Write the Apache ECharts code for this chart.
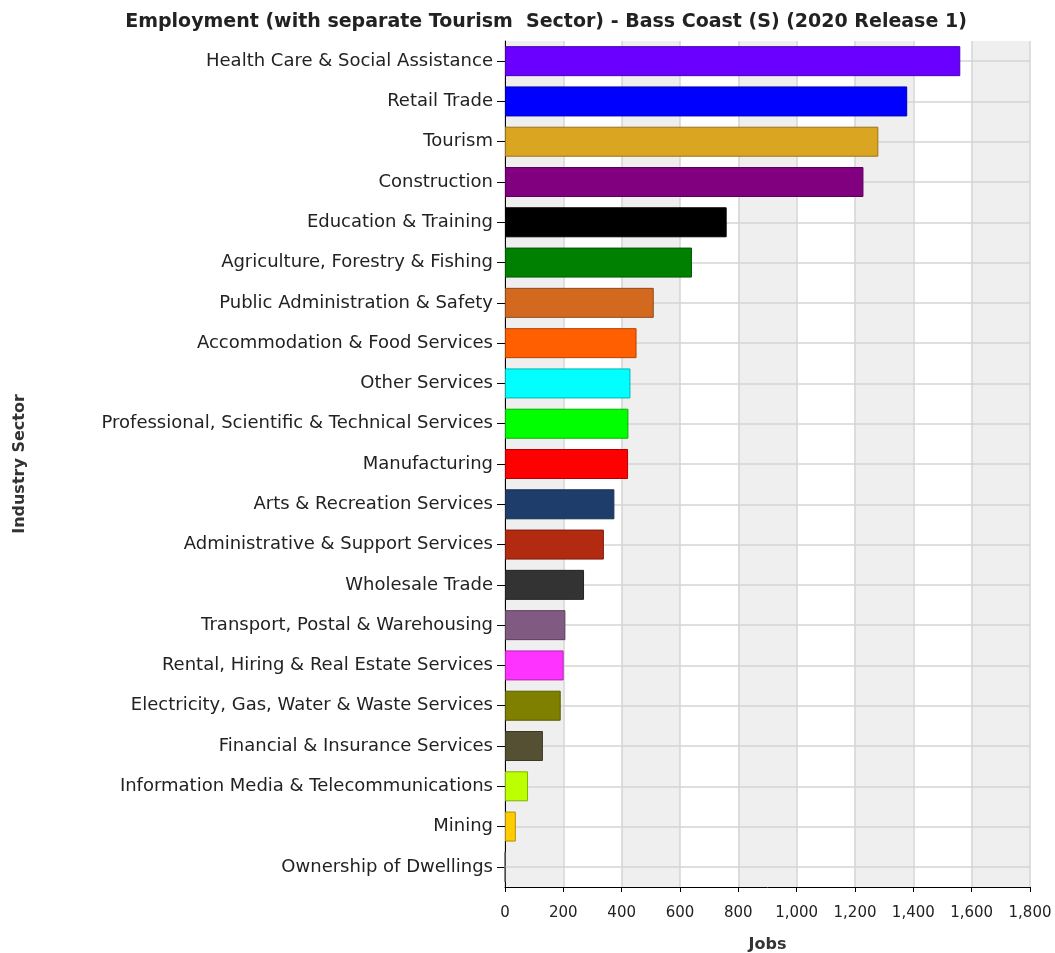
<!DOCTYPE html>
<html>
<head>
<meta charset="utf-8">
<script src="https://cdn.jsdelivr.net/npm/echarts@6/dist/echarts.min.js"></script>
<style>
html,body{margin:0;padding:0;background:#fff;}
#chart{width:1055px;height:953px;}
</style>
</head>
<body>
<div id="chart"></div>
<script>
const categories = [
  "Health Care & Social Assistance",
  "Retail Trade",
  "Tourism",
  "Construction",
  "Education & Training",
  "Agriculture, Forestry & Fishing",
  "Public Administration & Safety",
  "Accommodation & Food Services",
  "Other Services",
  "Professional, Scientific & Technical Services",
  "Manufacturing",
  "Arts & Recreation Services",
  "Administrative & Support Services",
  "Wholesale Trade",
  "Transport, Postal & Warehousing",
  "Rental, Hiring & Real Estate Services",
  "Electricity, Gas, Water & Waste Services",
  "Financial & Insurance Services",
  "Information Media & Telecommunications",
  "Mining",
  "Ownership of Dwellings"
];
const jobs = [1561, 1379, 1280, 1229, 760, 641, 510, 451, 430, 423, 422, 375, 339, 271, 207, 201, 191, 130, 79, 37, 0];
const colors = ["#6a00ff","#0000ff","#daa520","#800080","#000000","#008000","#d2691e","#ff5f00","#00ffff","#00ff00","#ff0000","#1f3d6b","#b22a10","#333333","#805a80","#ff33ff","#808000","#555033","#bbff00","#ffcc00","#999999"];
const borders = ["#4a00b3","#0000b3","#98731a","#5a005a","#000000","#005a00","#93491a","#b34300","#00b3b3","#00b300","#b30000","#16304f","#7d1d0b","#222222","#5a3f5a","#b324b3","#5a5a00","#3b3824","#83b300","#b38f00","#666666"];
const xTicks = [0, 200, 400, 600, 800, 1000, 1200, 1400, 1600, 1800];

const chart = echarts.init(document.getElementById('chart'));
chart.setOption({
  animation: false,
  title: {
    text: "Employment (with separate Tourism  Sector) - Bass Coast (S) (2020 Release 1)",
    left: 541, textAlign: 'center', top: 8,
    textStyle: {fontFamily: 'DejaVu Sans', fontWeight: 'bold', fontSize: 19, color: '#222'}
  },
  grid: {left: 505, right: 25, top: 41, bottom: 66, containLabel: false, outerBoundsMode: 'none'},
  xAxis: {
    type: 'value', min: xTicks[0], max: xTicks[xTicks.length - 1], interval: 200,
    name: 'Jobs', nameLocation: 'middle', nameGap: 50,
    nameTextStyle: {fontFamily: 'DejaVu Sans', fontWeight: 'bold', fontSize: 16, color: '#333'},
    axisLine: {show: true, lineStyle: {color: '#000', width: 1}},
    axisTick: {show: true, length: 5, lineStyle: {color: '#000'}},
    axisLabel: {fontFamily: 'DejaVu Sans', fontSize: 15, color: '#222', margin: 19,
      formatter: v => v.toLocaleString('en-US')},
    splitLine: {show: true, lineStyle: {color: '#d4d4d4', width: 1.5}},
    splitArea: {show: true, areaStyle: {color: ['#efefef', '#ffffff']}}
  },
  yAxis: {
    type: 'category', data: categories, inverse: true,
    name: 'Industry Sector', nameLocation: 'middle', nameGap: 477, nameRotate: 90,
    nameTextStyle: {fontFamily: 'DejaVu Sans', fontWeight: 'bold', fontSize: 16, color: '#333'},
    axisLine: {show: true, lineStyle: {color: '#000', width: 1}},
    axisTick: {show: true, alignWithLabel: true, length: 8, lineStyle: {color: '#000'}},
    axisLabel: {fontFamily: 'DejaVu Sans', fontSize: 18, color: '#222', margin: 12},
    splitLine: {show: false}
  },
  series: [{
    type: 'bar',
    z: 2,
    data: jobs.map((v, i) => ({value: v, itemStyle: {color: colors[i], borderColor: borders[i], borderWidth: 1}})),
    barWidth: 30,
    markLine: {
      z: 1,
      silent: true,
      symbol: ['none', 'none'],
      label: {show: false},
      lineStyle: {type: 'solid', color: '#d4d4d4', width: 1.5},
      data: categories.map(c => ({yAxis: c}))
    }
  }]
});
</script>
</body>
</html>
